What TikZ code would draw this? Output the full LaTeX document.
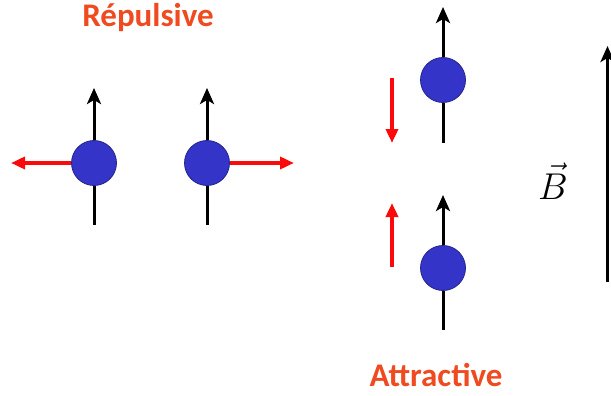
\documentclass[tikz,border=0pt]{standalone}
\usepackage{fontspec}
\newfontfamily\carlito{Carlito}
\usetikzlibrary{arrows.meta, positioning}
\definecolor{ionblue}{RGB}{52,52,200}
\definecolor{ionedge}{RGB}{35,35,140}
\definecolor{forcered}{RGB}{250,10,10}
\definecolor{titlered}{RGB}{240,74,32}
\tikzset{
  ion/.style={circle, draw=ionedge, fill=ionblue, line width=0.8pt, minimum size=45pt, inner sep=0pt},
  spin/.style={-{Stealth[length=16pt, width=14pt, inset=4pt]}, line width=3pt, black},
  spinend/.style={line width=3pt, black},
  force/.style={-{Triangle[length=14pt, width=12pt]}, line width=4.5pt, forcered},
  ttl/.style={font=\carlito\bfseries\fontsize{33}{38}\selectfont, text=titlered, inner sep=0pt},
  blab/.style={inner sep=0pt}
}

\begin{document}
\begin{tikzpicture}[x=1pt, y=-1pt]
		\useasboundingbox (0,0) rectangle (611,396);
		% repulsive pair
		\node[ttl] (rep) at (148,18) {Répulsive};
		\node[ion] (a) at (94,163) {};
		\node[ion] (b) at (207,163) {};
		\coordinate (at) at (94,88);
		\coordinate (ab) at (94,225);
		\coordinate (bt) at (207,88);
		\coordinate (bb) at (207,225);
		\coordinate (af) at (11,163);
		\coordinate (bf) at (294,163);
		\draw[spin] (a.north) -- (at);
		\draw[spinend] (a.south) -- (ab);
		\draw[spin] (b.north) -- (bt);
		\draw[spinend] (b.south) -- (bb);
		\draw[force] (a.west) -- (af);
		\draw[force] (b.east) -- (bf);
		% attractive pair
		\node[ion] (c) at (443,80) {};
		\node[ion] (d) at (443,268) {};
		\coordinate (ct) at (443,7);
		\coordinate (cb) at (443,143);
		\coordinate (dt) at (443,195);
		\coordinate (db) at (443,330);
		\draw[spin] (c.north) -- (ct);
		\draw[spinend] (c.south) -- (cb);
		\draw[spin] (d.north) -- (dt);
		\draw[spinend] (d.south) -- (db);
		\coordinate (cf0) at (392,78);
		\coordinate (cf1) at (392,143);
		\coordinate (df0) at (392,267);
		\coordinate (df1) at (392,203);
		\draw[force] (cf0) -- (cf1);
		\draw[force] (df0) -- (df1);
		\node[ttl] (att) at (436,375) {Attractive};
		% field
		\coordinate (B0) at (607.5,282);
		\coordinate (B1) at (607.5,46);
		\draw[spin] (B0) -- (B1);
		\node[blab] (B) at (553,181) {\scalebox{1.5}{\fontsize{24.88}{28}\selectfont$\vec{B}$}};
	\end{tikzpicture}
\end{document}
